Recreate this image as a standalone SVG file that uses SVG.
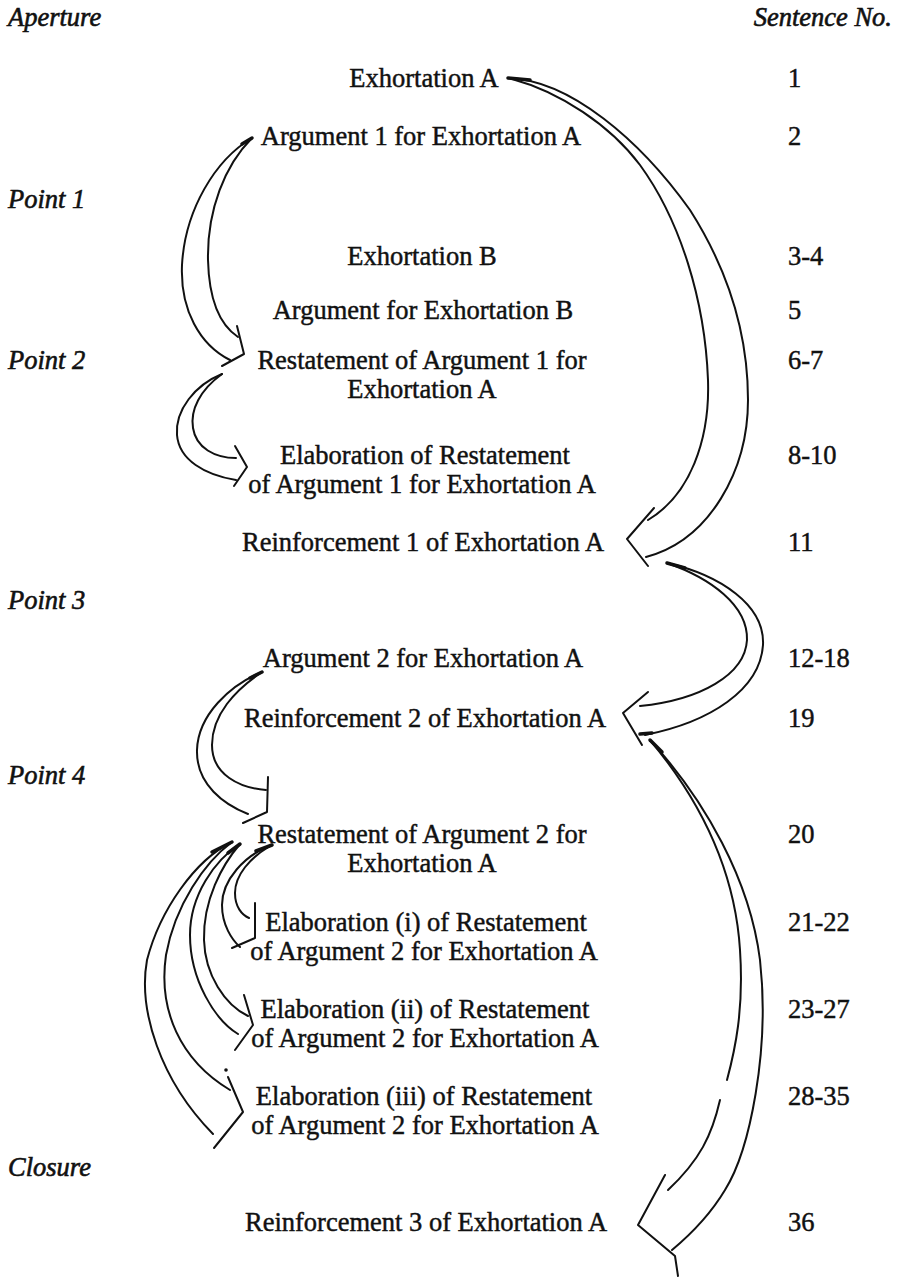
<svg xmlns="http://www.w3.org/2000/svg" width="905" height="1280" viewBox="0 0 905 1280">
  <style>
    text { font-family: "Liberation Serif", "Times New Roman", serif; font-size: 26.5px; fill: #111; stroke: #111; stroke-width: 0.45px; }
    .c { text-anchor: middle; }
    .num { text-anchor: start; }
    .sec { font-style: italic; text-anchor: start; stroke-width: 0.6px; }
    .arr { fill: none; stroke: #111; stroke-width: 2; stroke-linecap: round; stroke-linejoin: round; }
    .tail { fill: none; stroke: #111; stroke-width: 3.5; stroke-linecap: round; }
  </style>

  <!-- section headings and the sentence-number column -->
  <g id="sections">
    <text class="sec" x="8" y="26">Aperture</text>
    <text class="sec" x="892" y="26" style="text-anchor:end">Sentence No.</text>
    <text class="sec" x="8" y="208">Point 1</text>
    <text class="sec" x="8" y="369">Point 2</text>
    <text class="sec" x="8" y="609">Point 3</text>
    <text class="sec" x="8" y="784">Point 4</text>
    <text class="sec" x="8" y="1176">Closure</text>
  </g>

  <g id="numbers">
    <text class="num" x="788" y="87">1</text>
    <text class="num" x="788" y="145">2</text>
    <text class="num" x="788" y="265">3-4</text>
    <text class="num" x="788" y="319">5</text>
    <text class="num" x="788" y="369">6-7</text>
    <text class="num" x="788" y="464">8-10</text>
    <text class="num" x="788" y="551">11</text>
    <text class="num" x="788" y="667">12-18</text>
    <text class="num" x="788" y="727">19</text>
    <text class="num" x="788" y="843">20</text>
    <text class="num" x="788" y="931">21-22</text>
    <text class="num" x="788" y="1018">23-27</text>
    <text class="num" x="788" y="1105">28-35</text>
    <text class="num" x="788" y="1231">36</text>
  </g>

  <!-- nodes -->
  <g id="exhortation-a"><text class="c" x="424" y="87">Exhortation A</text></g>
  <g id="argument-1"><text class="c" x="421" y="145">Argument 1 for Exhortation A</text></g>
  <g id="exhortation-b"><text class="c" x="422" y="265">Exhortation B</text></g>
  <g id="argument-b"><text class="c" x="423" y="319">Argument for Exhortation B</text></g>
  <g id="restatement-1">
    <text class="c" x="422" y="369">Restatement of Argument 1 for</text>
    <text class="c" x="422" y="398">Exhortation A</text>
  </g>
  <g id="elaboration-1">
    <text class="c" x="425" y="464">Elaboration of Restatement</text>
    <text class="c" x="422" y="493">of Argument 1 for Exhortation A</text>
  </g>
  <g id="reinforcement-1"><text class="c" x="423" y="551">Reinforcement 1 of Exhortation A</text></g>
  <g id="argument-2"><text class="c" x="423" y="667">Argument 2 for Exhortation A</text></g>
  <g id="reinforcement-2"><text class="c" x="425" y="727">Reinforcement 2 of Exhortation A</text></g>
  <g id="restatement-2">
    <text class="c" x="422" y="843">Restatement of Argument 2 for</text>
    <text class="c" x="422" y="872">Exhortation A</text>
  </g>
  <g id="elaboration-2i">
    <text class="c" x="426" y="931">Elaboration (i) of Restatement</text>
    <text class="c" x="424" y="960">of Argument 2 for Exhortation A</text>
  </g>
  <g id="elaboration-2ii">
    <text class="c" x="425" y="1018">Elaboration (ii) of Restatement</text>
    <text class="c" x="425" y="1047">of Argument 2 for Exhortation A</text>
  </g>
  <g id="elaboration-2iii">
    <text class="c" x="424" y="1105">Elaboration (iii) of Restatement</text>
    <text class="c" x="425" y="1134">of Argument 2 for Exhortation A</text>
  </g>
  <g id="reinforcement-3"><text class="c" x="426" y="1231">Reinforcement 3 of Exhortation A</text></g>

  <!-- broad hand-drawn arrows: outer edge, inner edge, open head -->
  <g id="connectors">
    <!-- Exhortation A -> Reinforcement 1 -->
    <g id="arrow-exa-r1">
      <path class="tail" d="M508,78 L530,80"/>
      <path class="arr" d="M508,78 C570,80 640,140 690,210 C725,265 748,330 748,400 C748,470 710,540 646,557"/>
      <path class="arr" d="M512,79 C560,92 610,125 640,165 C680,220 705,300 708,380 C710,440 690,495 648,520"/>
      <path class="arr" d="M654,508 L627,539 L648,566"/>
    </g>
    <!-- Argument 1 -> Restatement 1 -->
    <g id="arrow-a1-rs1">
      <path class="tail" d="M252,138 L242,144"/>
      <path class="arr" d="M252,138 C215,160 185,210 182,265 C180,310 200,345 230,360"/>
      <path class="arr" d="M252,138 C225,165 207,210 208,260 C209,300 220,325 238,337"/>
      <path class="arr" d="M237,326 L244,354 L222,366"/>
    </g>
    <!-- Restatement 1 -> Elaboration -->
    <g id="arrow-rs1-el1">
      <path class="arr" d="M222,374 C195,385 175,410 177,435 C179,460 205,475 236,480"/>
      <path class="arr" d="M222,374 C200,390 190,410 193,428 C196,448 215,458 236,458"/>
      <path class="arr" d="M235,446 L247,467 L234,486"/>
    </g>
    <!-- Reinforcement 1 -> Reinforcement 2 -->
    <g id="arrow-r1-r2">
      <path class="tail" d="M667,563 L685,568"/>
      <path class="arr" d="M667,563 C720,575 765,605 763,645 C760,690 710,722 645,735"/>
      <path class="arr" d="M667,563 C710,578 748,605 747,640 C745,675 700,700 640,706"/>
      <path class="arr" d="M648,692 L623,713 L642,745"/>
      <path class="tail" d="M640,734 L652,733"/>
    </g>
    <!-- Argument 2 -> Restatement 2 -->
    <g id="arrow-a2-rs2">
      <path class="tail" d="M262,672 L250,678"/>
      <path class="arr" d="M262,672 C230,685 198,715 197,750 C196,785 225,805 248,814"/>
      <path class="arr" d="M262,672 C235,690 212,715 212,745 C212,775 240,788 266,790"/>
      <path class="arr" d="M268,777 L267,812 L243,823"/>
    </g>
    <!-- Reinforcement 2 -> Reinforcement 3 -->
    <g id="arrow-r2-r3">
      <path class="tail" d="M650,740 L662,752"/>
      <path class="arr" d="M650,740 C705,800 750,880 760,960 C770,1050 750,1150 725,1190 C710,1215 690,1235 672,1250"/>
      <path class="arr" d="M650,740 C700,800 735,870 740,950 C744,1010 735,1050 727,1080"/>
      <path class="arr" d="M720,1100 C712,1135 700,1160 668,1190"/>
      <path class="arr" d="M665,1175 L638,1225 L675,1256 L678,1276"/>
    </g>
    <!-- Restatement 2 -> Elaborations (i), (ii), (iii) -->
    <g id="arrow-rs2-el-i">
      <path class="tail" d="M272,845 L256,851"/>
      <path class="arr" d="M270,846 C245,855 222,880 222,905 C222,925 232,940 240,947"/>
      <path class="arr" d="M270,846 C250,858 235,875 235,893 C235,907 242,915 249,918"/>
      <path class="arr" d="M255,903 L255,938 L232,948"/>
    </g>
    <g id="arrow-rs2-el-ii">
      <path class="tail" d="M240,844 L228,853"/>
      <path class="arr" d="M240,844 C215,860 190,895 190,935 C190,980 215,1020 238,1034"/>
      <path class="arr" d="M240,844 C222,865 203,900 204,940 C205,975 225,1005 248,1016"/>
      <path class="arr" d="M244,995 L253,1025 L235,1050"/>
    </g>
    <g id="arrow-rs2-el-iii">
      <path class="tail" d="M232,842 L212,852"/>
      <path class="arr" d="M232,842 C195,860 160,910 147,960 C138,1010 160,1080 213,1134"/>
      <path class="arr" d="M232,842 C205,862 175,905 166,955 C158,1010 180,1060 230,1090"/>
      <path class="arr" d="M228,1077 L243,1112 L214,1148"/>
      <circle cx="226" cy="1070" r="1.8" fill="#111"/>
    </g>
  </g>
</svg>
